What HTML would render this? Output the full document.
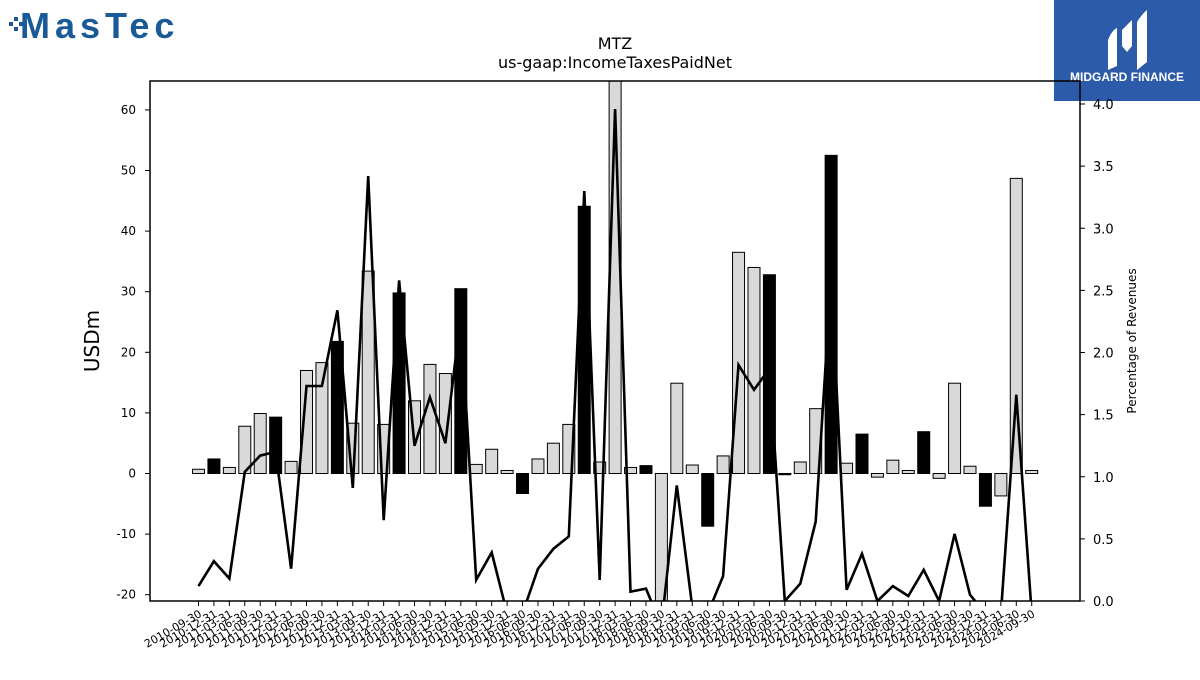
<!DOCTYPE html>
<html><head><meta charset="utf-8">
<style>
body{margin:0;background:#fff;width:1200px;height:675px;overflow:hidden;font-family:"Liberation Sans","DejaVu Sans",sans-serif;}
svg text{font-family:"DejaVu Sans","Liberation Sans",sans-serif;}
</style></head>
<body>
<svg id="chart" width="1200" height="675" viewBox="0 0 1200 675" xmlns="http://www.w3.org/2000/svg">
  <g>
    <rect x="9" y="22" width="4" height="4" fill="#1a5a96"/>
    <rect x="14" y="17" width="4" height="4" fill="#1a5a96"/>
    <rect x="14" y="27" width="4" height="4" fill="#1a5a96"/>
    <rect x="19" y="22" width="4" height="4" fill="#1a5a96"/>
    <text x="20" y="38" font-size="36" font-weight="bold" fill="#1a5a96" letter-spacing="5" style="font-family:'Liberation Sans',sans-serif">MasTec</text>
  </g>
  <g>
    <rect x="1054" y="0" width="146" height="101" fill="#2c5baa"/>
    <path d="M1108 40 Q1112 30 1117 28 L1117 66 L1108 70 Z" fill="#fff"/>
    <path d="M1122 30 L1132 20 L1132 46 L1127 52 L1122 46 Z" fill="#fff"/>
    <path d="M1137 22 Q1142 14 1147 10 L1147 62 L1137 70 Z" fill="#fff"/>
    <text x="1127" y="81" font-size="12" font-weight="bold" fill="#fff" text-anchor="middle" style="font-family:'Liberation Sans',sans-serif">MIDGARD FINANCE</text>
  </g>
  <text x="615" y="49" font-size="16" text-anchor="middle">MTZ</text>
  <text x="615" y="68" font-size="16" text-anchor="middle">us-gaap:IncomeTaxesPaidNet</text>
  <text transform="translate(99,341) rotate(-90)" font-size="20" text-anchor="middle">USDm</text>
  <text transform="translate(1136,341) rotate(-90)" font-size="12" text-anchor="middle">Percentage of Revenues</text>
  <defs><clipPath id="plotclip"><rect x="150" y="81" width="930" height="520"/></clipPath></defs>
  <g id="bars" clip-path="url(#plotclip)"></g>
  <g id="line" clip-path="url(#plotclip)"></g>
  <g id="axes"></g>
  <rect x="150" y="81" width="930" height="520" fill="none" stroke="#000" stroke-width="1.5"/>
</svg>
<script>
const categories = ["2010-09-30","2010-12-31","2011-03-31","2011-06-30","2011-09-30","2011-12-31","2012-03-31","2012-06-30","2012-09-30","2012-12-31","2013-03-31","2013-09-30","2013-12-31","2014-03-31","2014-06-30","2014-09-30","2014-12-31","2015-03-31","2015-06-30","2015-09-30","2015-12-31","2016-06-30","2016-09-30","2016-12-31","2017-03-31","2017-06-30","2017-09-30","2017-12-31","2018-03-31","2018-06-30","2018-09-30","2018-12-31","2019-03-31","2019-06-30","2019-09-30","2019-12-31","2020-03-31","2020-06-30","2020-09-30","2020-12-31","2021-03-31","2021-06-30","2021-09-30","2021-12-31","2022-03-31","2022-06-30","2022-09-30","2022-12-31","2023-03-31","2023-06-30","2023-09-30","2023-12-31","2024-03-31","2024-06-30","2024-09-30"];
const taxValues = [0.7,2.4,1.0,7.8,9.9,9.3,2.0,17.0,18.3,21.8,8.3,33.4,8.1,29.8,12.0,18.0,16.5,30.5,1.5,4.0,0.5,-3.3,2.4,5.0,8.1,44.1,1.9,70,1.0,1.3,-25,14.9,1.4,-8.7,2.9,36.5,34.0,32.8,-0.2,1.9,10.7,52.5,1.7,6.5,-0.6,2.2,0.5,6.9,-0.8,14.9,1.2,-5.4,-3.7,48.7,0.5];
const annualFlags = [0,1,0,0,0,1,0,0,0,1,0,0,0,1,0,0,0,1,0,0,0,1,0,0,0,1,0,0,0,1,0,0,0,1,0,0,0,1,1,0,0,1,0,1,0,0,0,1,0,0,0,1,0,0,0];
const pctValues = [0.12,0.32,0.18,1.04,1.17,1.2,0.26,1.73,1.73,2.34,0.91,3.42,0.65,2.58,1.25,1.64,1.27,2.3,0.17,0.39,-0.1,-0.1,0.26,0.42,0.52,3.3,0.17,3.96,0.075,0.1,-0.2,0.93,-0.05,-0.1,0.2,1.9,1.7,1.87,0.0,0.14,0.64,2.6,0.09,0.38,0.0,0.12,0.04,0.25,0.0,0.54,0.05,-0.1,-0.1,1.66,-0.1];
const leftTicks = [-20,-10,0,10,20,30,40,50,60];
const rightTicks = ["0.0","0.5","1.0","1.5","2.0","2.5","3.0","3.5","4.0"];

const NS="http://www.w3.org/2000/svg";
const X0=198.5, DX=15.43;
function xPos(i){return X0+i*DX;}
function yLeft(v){return 473.5 - v*6.06;}
function yRight(v){return 601 - v*124.25;}
function mk(tag,attrs,parent){const e=document.createElementNS(NS,tag);for(const k in attrs)e.setAttribute(k,attrs[k]);parent.appendChild(e);return e;}

const bars=document.getElementById('bars');
taxValues.forEach((v,i)=>{
  const y0=yLeft(0), y1=yLeft(v);
  const black=annualFlags[i]===1;
  const r=mk('rect',{x:xPos(i)-6,y:Math.min(y0,y1),width:12,height:Math.max(Math.abs(y1-y0),0.8),fill:black?'#000':'#d9d9d9',stroke:'#000','stroke-width':1},bars);
  
  
});
const line=document.getElementById('line');
const pts=pctValues.map((v,i)=>xPos(i).toFixed(1)+','+yRight(v).toFixed(1)).join(' ');
const pl=mk('polyline',{points:pts,fill:'none',stroke:'#000','stroke-width':2.6,'stroke-linejoin':'miter'},line);



const axes=document.getElementById('axes');
leftTicks.forEach(t=>{
  const y=yLeft(t);
  mk('line',{x1:145,x2:150,y1:y,y2:y,stroke:'#000','stroke-width':1},axes);
  const tx=mk('text',{x:136,y:y+4,'font-size':12,'text-anchor':'end'},axes);
  tx.textContent=t;
  
  
});
rightTicks.forEach(t=>{
  const y=yRight(parseFloat(t));
  mk('line',{x1:1080,x2:1085,y1:y,y2:y,stroke:'#000','stroke-width':1},axes);
  const tx=mk('text',{x:1093,y:y+5,'font-size':13},axes);
  tx.textContent=t;
  
  
});
categories.forEach((c,i)=>{
  const x=xPos(i);
  mk('line',{x1:x,x2:x,y1:601,y2:606,stroke:'#000','stroke-width':1},axes);
  const tx=mk('text',{x:0,y:0,'font-size':11,'text-anchor':'end',transform:'translate('+(x+4)+',616) rotate(-30)'},axes);
  tx.textContent=c;
  
  
});
</script>
</body></html>
